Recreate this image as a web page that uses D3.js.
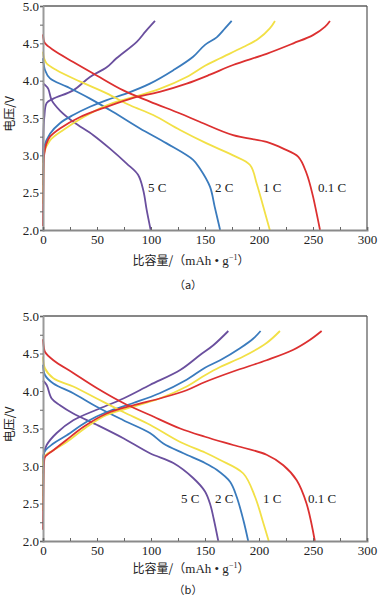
<!DOCTYPE html>
<html><head><meta charset="utf-8">
<script src="https://cdn.jsdelivr.net/npm/d3@7"></script>
<style>body{margin:0;background:#fff}svg{display:block}</style>
</head><body><svg id="c" width="378" height="598"></svg>
<script>
// ---------- data ----------
const rates = ["0.1 C", "1 C", "2 C", "5 C"];
const xTicks = [0, 50, 100, 150, 200, 250, 300];
const yTicks = [2.0, 2.5, 3.0, 3.5, 4.0, 4.5, 5.0];
const panelLabels = ["（a）", "（b）"];

// panel (a) discharge [capacity, voltage]
const aDis01 = [[0,4.62],[0.6,4.55],[1.9,4.50],[9.5,4.41],[28,4.25],[49.7,4.07],[74.4,3.87],[99,3.72],[127,3.56],[145,3.45],[176,3.27],[207,3.18],[222.5,3.09],[236.4,2.98],[244,2.76],[250,2.45],[256.5,2.0]];
const aDis1 = [[0,4.39],[1,4.30],[3.4,4.23],[12.7,4.14],[34,3.99],[59,3.83],[80.6,3.67],[102,3.54],[126.9,3.34],[151.6,3.16],[176,3.0],[191.7,2.87],[197.9,2.62],[204,2.31],[210,2.0]];
const aDis2 = [[0,4.30],[1.9,4.14],[6.5,4.03],[22,3.92],[43.5,3.76],[65,3.58],[89.8,3.36],[114.5,3.16],[139,2.94],[145.4,2.82],[154.6,2.58],[159,2.31],[164,2.0]];
const aDis5 = [[0,3.96],[2,3.94],[4.9,3.89],[8,3.74],[15.7,3.60],[28,3.45],[46.6,3.27],[62,3.09],[77.5,2.89],[88,2.74],[92.9,2.53],[96,2.27],[99.7,2.0]];
// panel (a) charge
const aCh01 = [[0,2.05],[0.4,2.6],[1,3.0],[3,3.15],[6.5,3.25],[15.7,3.36],[34,3.51],[59,3.65],[83.6,3.77],[108,3.85],[133,3.96],[154.6,4.08],[176,4.21],[207,4.36],[231.8,4.50],[250,4.61],[261,4.72],[265.7,4.80]];
const aCh1 = [[0,2.35],[0.4,2.8],[1,3.03],[6.5,3.20],[18.8,3.34],[37.3,3.51],[59,3.67],[83.6,3.78],[108,3.89],[133,4.05],[150,4.20],[164,4.30],[185.5,4.45],[199.4,4.56],[210,4.70],[214.8,4.80]];
const aCh2 = [[0,2.6],[0.4,2.9],[1,3.11],[6.5,3.29],[15.7,3.43],[28,3.54],[43.5,3.65],[59,3.74],[77.5,3.83],[99,3.96],[120.7,4.14],[139,4.32],[150,4.48],[160.8,4.58],[168.5,4.70],[174.7,4.80]];
const aCh5 = [[0,2.9],[0.4,3.3],[1.2,3.51],[3.4,3.70],[9.6,3.76],[28,3.87],[43.5,4.05],[59,4.18],[68,4.30],[86.8,4.52],[95,4.66],[103.7,4.80]];

// panel (b) discharge
const bDis01 = [[0,4.69],[0.8,4.58],[1.9,4.52],[9.6,4.41],[28,4.24],[49.7,4.04],[74.4,3.84],[99,3.68],[127,3.50],[150,3.39],[176,3.28],[207,3.15],[222.5,3.01],[234.9,2.81],[244,2.50],[251.7,2.0]];
const bDis1 = [[0,4.46],[1.9,4.30],[9.6,4.17],[28,4.06],[49.7,3.90],[74.4,3.72],[99,3.55],[127,3.32],[150,3.18],[164,3.08],[185.5,2.90],[196.3,2.59],[204,2.24],[209,2.0]];
const bDis2 = [[0,4.35],[1.9,4.21],[9.6,4.10],[28,3.97],[49.7,3.79],[74.4,3.61],[99,3.44],[111.4,3.30],[130,3.17],[150,3.04],[160.8,2.95],[173.2,2.79],[179.3,2.59],[185.5,2.28],[190,2.0]];
const bDis5 = [[0,4.14],[3.4,4.08],[8,3.90],[15.7,3.81],[28,3.70],[49.7,3.55],[74.4,3.37],[99,3.17],[120.7,3.04],[139,2.84],[150,2.66],[155,2.48],[158,2.30],[162.3,2.0]];
// panel (b) charge
const bCh01 = [[0,2.15],[0.4,2.7],[1,3.05],[1.9,3.12],[9.6,3.21],[22,3.35],[37.3,3.52],[59,3.70],[83.6,3.81],[108,3.90],[133,4.01],[150,4.12],[176,4.26],[207,4.41],[231.8,4.55],[247,4.68],[258,4.80]];
const bCh1 = [[0,2.4],[0.4,2.9],[1,3.12],[9.6,3.21],[22,3.32],[40.4,3.52],[59,3.68],[83.6,3.79],[108,3.90],[133,4.06],[150,4.21],[164,4.32],[185.5,4.46],[207,4.64],[219.4,4.80]];
const bCh2 = [[0,2.6],[0.4,3.0],[1,3.18],[9.6,3.30],[22,3.41],[40.4,3.59],[59,3.72],[83.6,3.84],[108,3.97],[133,4.15],[150,4.31],[164,4.41],[182.4,4.57],[194.8,4.70],[201.5,4.80]];
const bCh5 = [[0,2.9],[0.4,3.1],[1,3.17],[3.4,3.28],[12.7,3.44],[28,3.61],[49.7,3.75],[74.4,3.90],[99,4.08],[127,4.28],[145.4,4.48],[157.7,4.61],[171.6,4.80]];

const colors = {"0.1 C":"#dc3030","1 C":"#f2e046","2 C":"#3a7bbd","5 C":"#6a4f9e"};

const panels = [
  {top:6, bottom:230, caption:panelLabels[0], titleY:265, captionY:289,
   series:[["5 C",aDis5,aCh5],["2 C",aDis2,aCh2],["1 C",aDis1,aCh1],["0.1 C",aDis01,aCh01]],
   labelX:{"5 C":148,"2 C":215,"1 C":263,"0.1 C":318}, labelY:192},
  {top:316, bottom:541, caption:panelLabels[1], titleY:573, captionY:594,
   series:[["5 C",bDis5,bCh5],["2 C",bDis2,bCh2],["1 C",bDis1,bCh1],["0.1 C",bDis01,bCh01]],
   labelX:{"5 C":181,"2 C":215,"1 C":263,"0.1 C":308}, labelY:503}
];

const svg = d3.select("#c");
const x = d3.scaleLinear().domain([0,300]).range([43,367]);
const serif = "'Liberation Serif','Times New Roman',serif";
const cjk = "'Noto Sans CJK SC','Liberation Serif',serif";

panels.forEach(p => {
  const y = d3.scaleLinear().domain([2,5]).range([p.bottom,p.top]);
  const g = svg.append("g");
  const line = d3.line().x(d=>x(d[0])).y(d=>y(d[1])).curve(d3.curveCatmullRom.alpha(0.5));

  // frame top & right
  g.append("line").attr("x1",x(0)).attr("x2",x(300)).attr("y1",y(5)).attr("y2",y(5)).attr("stroke","#111").attr("stroke-width",1.2);
  g.append("line").attr("x1",x(300)).attr("x2",x(300)).attr("y1",y(5)).attr("y2",y(2)).attr("stroke","#555").attr("stroke-width",1.2);

  // curves
  p.series.forEach(([r,dis,ch]) => {
    [dis,ch].forEach(arr => g.append("path").attr("d",line(arr)).attr("fill","none")
      .attr("stroke",colors[r]).attr("stroke-width",1.8).attr("stroke-linejoin","round"));
  });

  // y axis
  const yAxis = d3.axisLeft(y).tickValues(d3.range(2,5.001,0.25)).tickSize(3)
    .tickFormat(d => yTicks.some(t=>Math.abs(t-d)<1e-6) ? d3.format(".1f")(d) : "");
  const ya = g.append("g").attr("transform",`translate(${x(0)},0)`).call(yAxis);
  ya.select(".domain").attr("stroke","#9a9a9a").attr("stroke-width",2);
  ya.selectAll(".tick line").attr("stroke","#666");
  ya.selectAll("text").attr("font-family",serif).attr("font-size",13).attr("fill","#222").attr("x",-4);

  // x axis
  const xAxis = d3.axisBottom(x).tickValues(d3.range(0,301,25)).tickSize(-3)
    .tickFormat(d => xTicks.includes(d) ? d : "");
  const xa = g.append("g").attr("transform",`translate(0,${y(2)})`).call(xAxis);
  xa.select(".domain").attr("stroke","#8a8a8a").attr("stroke-width",2);
  xa.selectAll(".tick line").attr("stroke","#666");
  xa.selectAll("text").attr("font-family",serif).attr("font-size",13).attr("fill","#222").attr("y",5);

  // rate labels
  rates.forEach(r => {
    g.append("text").attr("x",p.labelX[r]).attr("y",p.labelY).text(r)
      .attr("font-family",serif).attr("font-size",13).attr("fill","#222");
  });

  // y title
  g.append("text").attr("transform",`translate(14,${(p.top+p.bottom)/2 - 4}) rotate(-90)`)
    .attr("text-anchor","middle").attr("font-family",cjk).attr("font-size",12).attr("fill","#222")
    .text("电压/V");

  // x title
  const xt = g.append("text").attr("x",191).attr("y",p.titleY).attr("text-anchor","middle")
    .attr("font-family",cjk).attr("font-size",12).attr("fill","#222");
  xt.append("tspan").text("比容量/（");
  xt.append("tspan").attr("font-family",serif).attr("font-size",13).text("mAh • g");
  xt.append("tspan").attr("font-family",serif).attr("font-size",8).attr("dy",-5).text("−1");
  xt.append("tspan").attr("dy",5).text("）");

  // caption
  g.append("text").attr("x",188).attr("y",p.captionY).attr("text-anchor","middle")
    .attr("font-family",cjk).attr("font-size",11).attr("fill","#222").text(p.caption);
});
</script></body></html>
